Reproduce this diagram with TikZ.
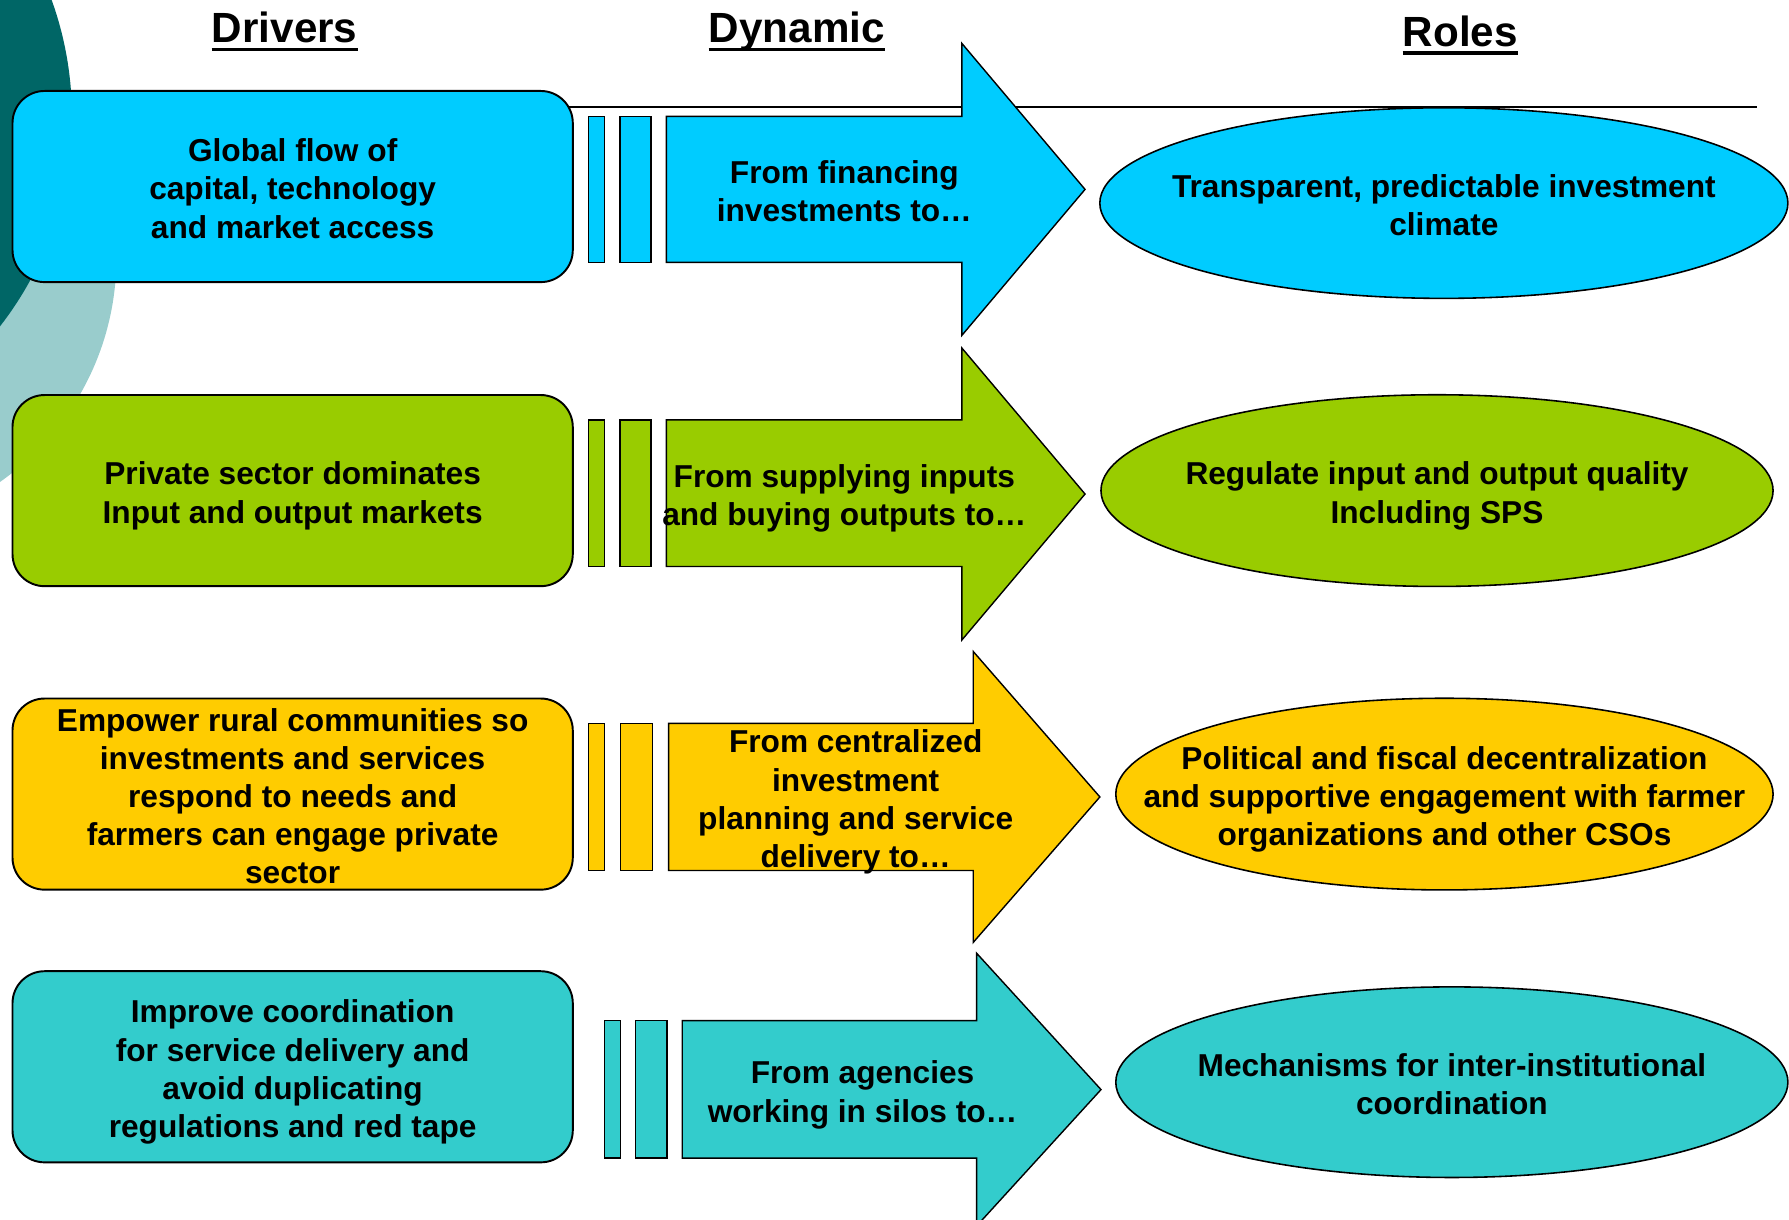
\documentclass[tikz,border=0pt]{standalone}
\usepackage{fontspec}
\setmainfont{Liberation Sans}
\usetikzlibrary{shapes.geometric}
\definecolor{cyanA}{HTML}{00CCFF}
\definecolor{greenA}{HTML}{99CC00}
\definecolor{goldA}{HTML}{FFCC00}
\definecolor{tealA}{HTML}{33CCCC}
\definecolor{darkteal}{HTML}{006666}
\definecolor{lightteal}{HTML}{99CCCC}
\newcommand\pptstrut{\rule[-0.24em]{0pt}{1.12em}}
\begin{document}
\begin{tikzpicture}[x=0.0228cm,y=-0.0228cm,
  txt/.style={font=\fontsize{18}{21.73}\selectfont\bfseries, align=center, inner sep=0pt,
      execute at begin node=\pptstrut, execute at end node=\pptstrut, yshift=-0.114cm},
  title/.style={font=\fontsize{24}{28}\selectfont\bfseries, inner sep=0pt, anchor=base},
  uline/.style={line width=2.2pt},
  driverbox/.style={draw=black, line width=1.1pt, rounded corners=0.64cm,
      minimum width=11.195cm, minimum height=3.819cm, inner sep=0pt},
  roleell/.style={draw=black, line width=0.9pt, ellipse, inner sep=0pt},
  bigarrow/.style={draw=black, line width=0.8pt, line join=miter},
  bar/.style={draw=black, line width=0.8pt}
]
\useasboundingbox (0,0) rectangle (1568,1069);
\clip (0,0) rectangle (1568,1069);

% background circles
\fill[lightteal] (-138,226) circle[radius=5.472cm];
\fill[darkteal] (-237,102) circle[radius=6.84cm];

% titles
\node[title] (tdrv) at (249.5,37.4) {Drivers};
\draw[uline] ([yshift=-0.137cm]tdrv.base west) -- ([yshift=-0.137cm]tdrv.base east);
\node[title] (tdyn) at (698.5,37.4) {Dynamic};
\draw[uline] ([yshift=-0.137cm]tdyn.base west) -- ([yshift=-0.137cm]tdyn.base east);
\node[title] (trol) at (1280,40.5) {Roles};
\draw[uline] ([yshift=-0.137cm]trol.base west) -- ([yshift=-0.137cm]trol.base east);

% horizontal rule
\coordinate (hl0) at (480,93.5);
\coordinate (hl1) at (1540,93.5);
\draw[line width=1.1pt] (hl0) -- (hl1);

% drivers
\node[driverbox, fill=cyanA] (d1) at (256.5,163.5) {};
\node[txt] (d1t) at (d1.center) {Global flow of\\capital, technology\\and market access};
\node[driverbox, fill=greenA] (d2) at (256.5,430) {};
\node[txt] (d2t) at (d2.center) {Private sector dominates\\Input and output markets};
\node[driverbox, fill=goldA] (d3) at (256.5,696) {};
\node[txt] (d3t) at (d3.center) {Empower rural communities so\\investments and services\\respond to needs and\\farmers can engage private\\sector};
\node[driverbox, fill=tealA] (d4) at (256.5,935) {};
\node[txt] (d4t) at (d4.center) {Improve coordination\\for service delivery and\\avoid duplicating\\regulations and red tape};

% row 1 bars and arrow
\draw[bar, fill=cyanA] (516,102) rectangle (530,230);
\draw[bar, fill=cyanA] (543.5,102) rectangle (570.5,230);
\draw[bigarrow, fill=cyanA] (584,102) -- (843,102) -- (843,38) -- (951,166) -- (843,294) -- (843,230) -- (584,230) -- cycle;
\node[txt] (a1) at (740,166) {From financing\\investments to\ldots};

% row 2
\draw[bar, fill=greenA] (516,368) rectangle (530,496.5);
\draw[bar, fill=greenA] (543.5,368) rectangle (570.5,496.5);
\draw[bigarrow, fill=greenA] (584,368) -- (843,368) -- (843,305) -- (951,433) -- (843,561) -- (843,496.5) -- (584,496.5) -- cycle;
\node[txt] (a2) at (740,432.5) {From supplying inputs\\and buying outputs to\ldots};

% row 3
\draw[bar, fill=goldA] (516,634) rectangle (530,763);
\draw[bar, fill=goldA] (544,634) rectangle (572,763);
\draw[bigarrow, fill=goldA] (586,634) -- (853,634) -- (853,571) -- (964,698.5) -- (853,826) -- (853,763) -- (586,763) -- cycle;
\node[txt] (a3) at (750,698.5) {From centralized\\investment\\planning and service\\delivery to\ldots};

% row 4
\draw[bar, fill=tealA] (530,894.5) rectangle (544,1015);
\draw[bar, fill=tealA] (557,894.5) rectangle (584.5,1015);
\draw[bigarrow, fill=tealA] (598,894.5) -- (856,894.5) -- (856,835.5) -- (965,955) -- (856,1074.5) -- (856,1015) -- (598,1015) -- cycle;
\node[txt] (a4) at (756,955) {From agencies\\working in silos to\ldots};

% roles
\node[roleell, fill=cyanA, minimum width=13.748cm, minimum height=3.808cm] (r1) at (1265.5,178) {};
\node[txt] (r1t) at (r1.center) {Transparent, predictable investment\\climate};
\node[roleell, fill=greenA, minimum width=13.429cm, minimum height=3.830cm] (r2) at (1259.5,430) {};
\node[txt] (r2t) at (r2.center) {Regulate input and output quality\\Including SPS};
\node[roleell, fill=goldA, minimum width=13.133cm, minimum height=3.830cm] (r3) at (1266,696) {};
\node[txt] (r3t) at (r3.center) {Political and fiscal decentralization\\and supportive engagement with farmer\\organizations and other CSOs};
\node[roleell, fill=tealA, minimum width=13.429cm, minimum height=3.808cm] (r4) at (1272.5,948.5) {};
\node[txt] (r4t) at (r4.center) {Mechanisms for inter-institutional\\coordination};
\end{tikzpicture}
\end{document}
